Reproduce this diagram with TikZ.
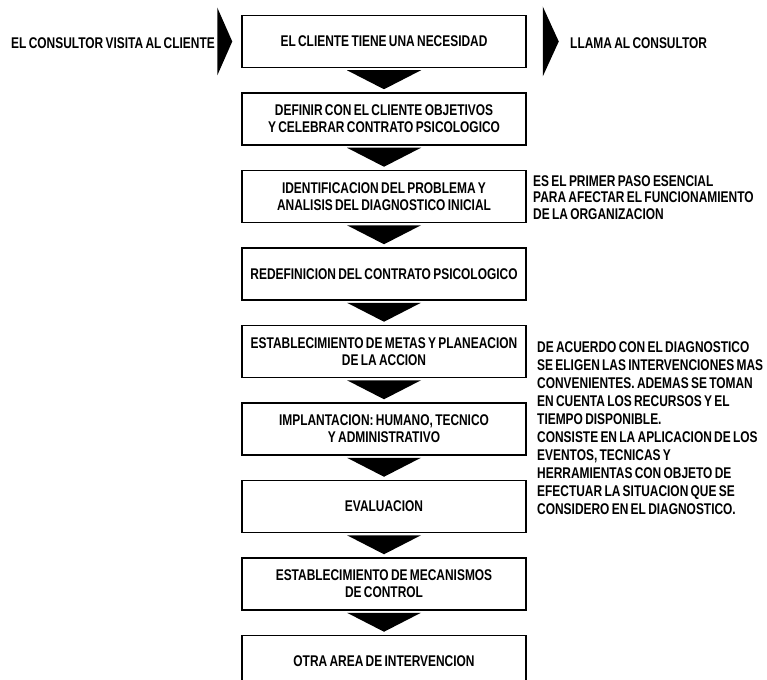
\documentclass[tikz,border=0pt]{standalone}
\usepackage{fontspec}
\setmainfont{Liberation Sans}[FakeStretch=0.77, WordSpace=0.7]
\usetikzlibrary{positioning}

\tikzset{
  caja/.style={draw, line width=1.5pt, align=center,
    minimum width=284pt, minimum height=52pt, inner ysep=2pt,
    font=\bfseries\fontsize{15.5}{17}\selectfont},
  nota/.style={align=left, inner sep=0pt,
    font=\bfseries\fontsize{15.5}{16.5}\selectfont}
}

\begin{document}
\begin{tikzpicture}[x=1pt, y=-1pt, node distance=24pt]
  \useasboundingbox (0,0) rectangle (767,679);
  % cajas del proceso
  \node[caja] (b1) at (384,41.5) {EL CLIENTE TIENE UNA NECESIDAD};
  \node[caja, below=of b1] (b2) {DEFINIR CON EL CLIENTE OBJETIVOS\\ Y CELEBRAR CONTRATO PSICOLOGICO};
  \node[caja, below=of b2] (b3) {IDENTIFICACION DEL PROBLEMA Y\\ ANALISIS DEL DIAGNOSTICO INICIAL};
  \node[caja, below=of b3] (b4) {REDEFINICION DEL CONTRATO PSICOLOGICO};
  \node[caja, below=of b4] (b5) {ESTABLECIMIENTO DE METAS Y PLANEACION\\ DE LA ACCION};
  \node[caja, below=of b5] (b6) {IMPLANTACION: HUMANO, TECNICO\\ Y ADMINISTRATIVO};
  \node[caja, below=of b6] (b7) {EVALUACION};
  \node[caja, below=of b7] (b8) {ESTABLECIMIENTO DE MECANISMOS\\ DE CONTROL};
  \node[caja, below=of b8] (b9) {OTRA AREA DE INTERVENCION};
  % textos laterales
  \node[nota, anchor=east] (visita) at (215,43) {EL CONSULTOR VISITA AL CLIENTE};
  \node[nota, anchor=west] (llama) at (570,43) {LLAMA AL CONSULTOR};
  \node[nota, anchor=north west] (nota1) at (533,175) {ES EL PRIMER PASO ESENCIAL\\ PARA AFECTAR EL FUNCIONAMIENTO\\ DE LA ORGANIZACION};
  \node[nota, anchor=north west, font=\bfseries\fontsize{15.5}{18}\selectfont] (nota2) at (537,341)
    {DE ACUERDO CON EL DIAGNOSTICO\\ SE ELIGEN LAS INTERVENCIONES MAS\\ CONVENIENTES. ADEMAS SE TOMAN\\ EN CUENTA LOS RECURSOS Y EL\\ TIEMPO DISPONIBLE.\\ CONSISTE EN LA APLICACION DE LOS\\ EVENTOS, TECNICAS Y\\ HERRAMIENTAS CON OBJETO DE\\ EFECTUAR LA SITUACION QUE SE\\ CONSIDERO EN EL DIAGNOSTICO.};
  % flechas
  \foreach \a/\b in {b1/b2, b2/b3, b3/b4, b4/b5, b5/b6, b6/b7, b7/b8, b8/b9}
    \fill ([xshift=-37pt, yshift=-2pt]\a.south) -- ([xshift=37pt, yshift=-2pt]\a.south)
      -- ([yshift=3pt]\b.north) -- cycle;
  \fill ([xshift=-24pt, yshift=34pt]b1.west) -- ([xshift=-9pt]b1.west)
    -- ([xshift=-24pt, yshift=-34pt]b1.west) -- cycle;
  \fill ([xshift=16pt, yshift=35pt]b1.east) -- ([xshift=32pt]b1.east)
    -- ([xshift=16pt, yshift=-35pt]b1.east) -- cycle;
\end{tikzpicture}
\end{document}
